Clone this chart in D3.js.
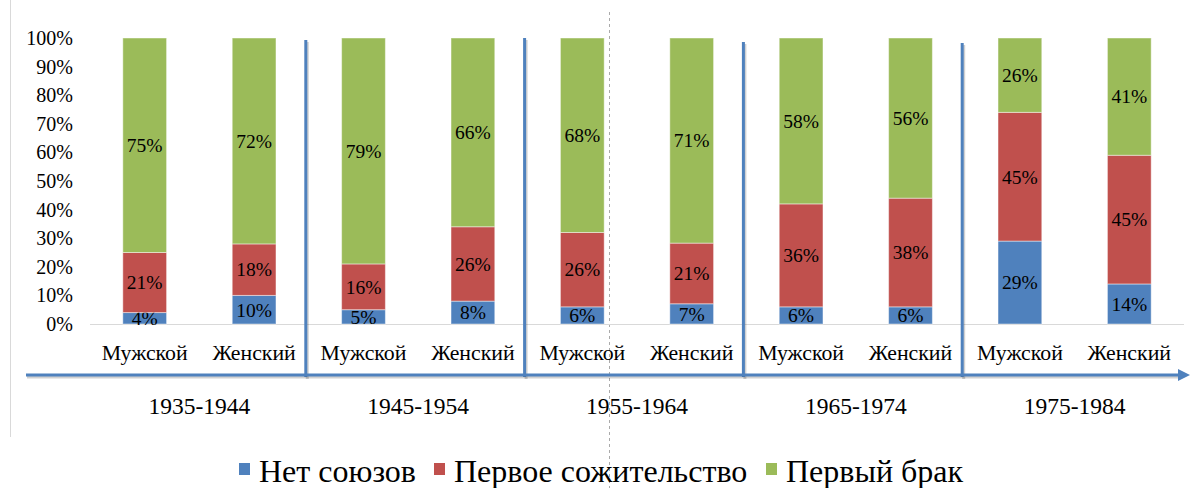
<!DOCTYPE html>
<html><head><meta charset="utf-8">
<script src="https://cdn.jsdelivr.net/npm/d3@7"></script>
<style>body{margin:0;background:#fff}svg{display:block}</style>
</head><body>
<svg id="c" width="1191" height="488"></svg>
<script>
const groups = ["1935-1944","1945-1954","1955-1964","1965-1974","1975-1984"];
const sexes = ["Мужской","Женский"];
const seriesNames = ["Нет союзов","Первое сожительство","Первый брак"];
const colors = ["#4F81BD","#C0504D","#9BBB59"];
const noUnion   = [4,10, 5,8, 6,7, 6,6, 29,14];
const cohab     = [21,18, 16,26, 26,21, 36,38, 45,45];
const marriage  = [75,72, 79,66, 68,71, 58,56, 26,41];
const yTicks = [0,0.1,0.2,0.3,0.4,0.5,0.6,0.7,0.8,0.9,1];

const FONT = '"Liberation Serif"';
const svg = d3.select("#c");
const cats = d3.range(groups.length*2);
const x = d3.scaleBand().domain(cats).range([90,1184]).paddingInner(0.6).paddingOuter(0.3);
const y = d3.scaleLinear().domain([0,1]).range([324,38]);

// frame line left
svg.append("line").attr("x1",10.5).attr("x2",10.5).attr("y1",0).attr("y2",437).attr("stroke","#d9d9d9");
// dashed line
svg.append("line").attr("x1",609.5).attr("x2",609.5).attr("y1",12).attr("y2",488)
  .attr("stroke","#aaa").attr("stroke-dasharray","3,3");

// baseline
svg.append("line").attr("x1",90).attr("x2",1184).attr("y1",y(0)+0.5).attr("y2",y(0)+0.5).attr("stroke","#d9d9d9");

// y axis
const yAxis = d3.axisLeft(y).tickValues(yTicks).tickFormat(d3.format(".0%")).tickSize(0).tickPadding(0);
const ga = svg.append("g").attr("transform","translate(73,0)").call(yAxis);
ga.select(".domain").remove();
ga.selectAll("text").style("font-family",FONT).style("font-size","20px").attr("fill","#000");

// data rows
const rows = cats.map(i => {
  const v = [noUnion[i], cohab[i], marriage[i]];
  return {i, v, t: d3.sum(v)};
});
const stackData = rows.map(r => ({i:r.i, s0:r.v[0]/r.t, s1:r.v[1]/r.t, s2:r.v[2]/r.t}));
const layers = d3.stack().keys(["s0","s1","s2"])(stackData);

layers.forEach((layer, k) => {
  const g = svg.append("g");
  g.selectAll("rect").data(layer).join("rect")
    .attr("x", d => x(d.data.i)).attr("width", x.bandwidth())
    .attr("y", d => y(d[1])).attr("height", d => y(d[0]) - y(d[1]))
    .attr("fill", colors[k]).attr("stroke","rgba(255,255,255,0.45)").attr("stroke-width",1);
  g.selectAll("text").data(layer).join("text")
    .attr("x", d => x(d.data.i) + x.bandwidth()/2)
    .attr("y", d => (y(d[0]) + y(d[1]))/2)
    .attr("dy","0.35em").attr("text-anchor","middle")
    .style("font-family",FONT).style("font-size","19.5px").attr("fill","#000")
    .text((d,j) => rows[j].v[k] + "%");
});

// category labels
svg.append("g").selectAll("text").data(cats).join("text")
  .attr("x", d => x(d) + x.bandwidth()/2).attr("y", 352).attr("dy","0.35em")
  .attr("text-anchor","middle").style("font-family",FONT).style("font-size","21.8px").attr("fill","#000")
  .text(d => sexes[d%2]);

// group labels
const step = x.step();
svg.append("g").selectAll("text").data(groups).join("text")
  .attr("x", (d,i) => (x(i*2) + x(i*2+1) + x.bandwidth())/2).attr("y", 406).attr("dy","0.35em")
  .attr("text-anchor","middle").style("font-family",FONT).style("font-size","23.5px").attr("fill","#000")
  .text(d => d);

// separators
const sepTop = [40,38,42,43];
d3.range(1,groups.length).forEach((g,i) => {
  const xs = x(g*2) - (step - x.bandwidth())/2 - 3;
  svg.append("line").attr("x1",xs+1.5).attr("x2",xs+1.5).attr("y1",sepTop[i]+2).attr("y2",379)
    .attr("stroke","rgba(0,0,0,0.18)").attr("stroke-width",3);
  svg.append("line").attr("x1",xs).attr("x2",xs).attr("y1",sepTop[i]).attr("y2",377)
    .attr("stroke","#4F81BD").attr("stroke-width",3);
});

// arrow
svg.append("line").attr("x1",27).attr("x2",1180).attr("y1",377).attr("y2",377)
  .attr("stroke","rgba(0,0,0,0.18)").attr("stroke-width",3);
svg.append("line").attr("x1",26).attr("x2",1180).attr("y1",375).attr("y2",375)
  .attr("stroke","#4F81BD").attr("stroke-width",3);
svg.append("path").attr("d","M1178,369 L1190,375 L1178,381 Z").attr("fill","#4F81BD");

// legend
const legend = svg.append("g");
const legX = [239,434,766];
seriesNames.forEach((n,k) => {
  const gx = legX[k];
  legend.append("rect").attr("x",gx).attr("y",463).attr("width",11).attr("height",12).attr("fill",colors[k]);
  legend.append("text").attr("x",gx+20).attr("y",482).attr("fill","#000")
    .style("font-family",FONT).style("font-size","32px").text(n);
});
</script>
</body></html>
